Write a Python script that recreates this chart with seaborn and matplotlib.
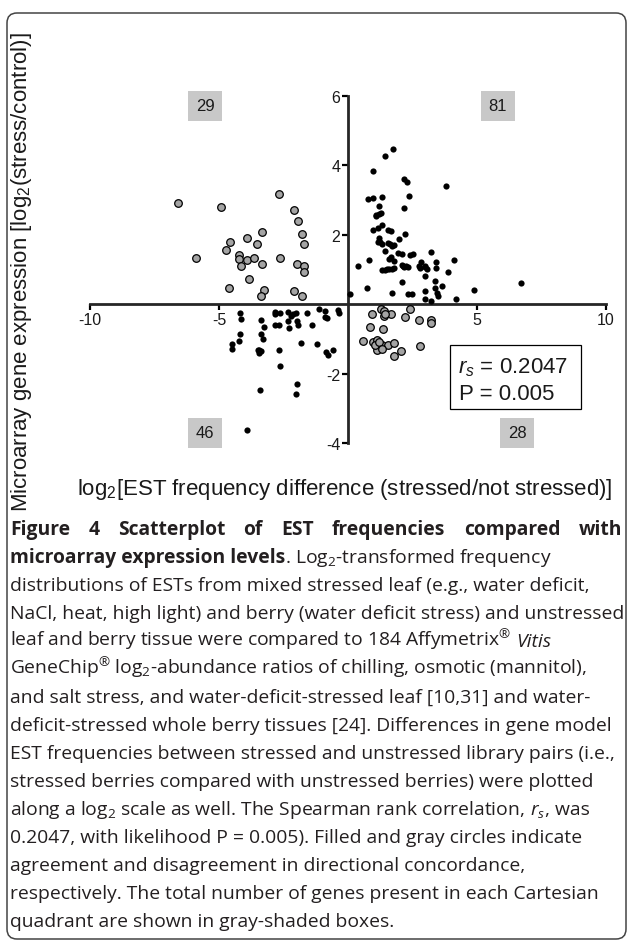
import matplotlib
matplotlib.use("Agg")
import matplotlib.pyplot as plt
from matplotlib.patches import FancyBboxPatch, Rectangle
from matplotlib.transforms import IdentityTransform
import pandas as pd
import seaborn as sns

# genes whose EST and array directions agree (filled black circles)
agree_x = [1.73, 1.43, 0.97, 2.16, 2.30, 3.79, 2.38, 0.79, 0.97, 1.32, 2.16, 1.20, 1.09, 1.19, 1.27,
           1.30, 1.15, 0.96, 1.56, 1.68, 2.22, 1.20, 1.96, 1.15, 1.30, 1.56, 1.72, 1.80, 1.43, 1.95,
           2.08, 2.39, 2.53, 3.22, 0.83, 0.38, 1.65, 1.59, 1.80, 1.30, 1.43, 1.58, 1.69, 1.80, 2.08,
           2.16, 2.24, 2.31, 2.74, 2.83, 2.78, 3.00, 3.05, 2.98, 3.40, 3.40, 4.11, 3.86, 0.72, 0.09,
           1.71, 2.08, 2.33, 2.47, 3.00, 3.00, 3.22, 3.38, 3.38, 3.44, 3.49, 3.64, 4.19, 4.90, 6.69,
           1.24, 1.62, 2.12, 1.50, 2.98, 1.10,
           -4.19, -4.14, -4.17, -4.22, -4.48, -4.48, -3.37, -3.24, -3.37, -3.28, -3.50, -3.45, -3.36,
           -3.41, -2.83, -2.83, -2.62, -2.83, -2.66, -2.66, -2.62, -2.33, -2.21, -2.03, -2.31, -1.99,
           -2.27, -1.93, -1.60, -1.38, -1.82, -1.20, -1.99, -2.02, -1.14, -0.88, -0.90, -0.83, -0.39,
           -0.34, -0.85, -0.78, -0.59, -3.90, -2.15, -3.44]
agree_y = [4.47, 4.28, 3.84, 3.62, 3.53, 3.42, 3.13, 3.03, 3.07, 3.10, 2.78, 2.82, 2.58, 2.59, 2.63,
           2.29, 2.19, 2.14, 2.15, 2.12, 2.01, 1.91, 1.89, 1.78, 1.73, 1.77, 1.68, 1.70, 1.52, 1.48,
           1.46, 1.42, 1.44, 1.50, 1.28, 1.10, 1.37, 1.29, 1.24, 1.00, 1.00, 1.01, 1.02, 1.05, 1.13,
           1.08, 1.09, 1.08, 1.11, 1.23, 1.05, 1.08, 1.02, 0.82, 1.21, 1.04, 1.27, 0.92, 0.48, 0.30,
           0.33, 0.64, 0.30, 0.30, 0.38, 0.15, 0.08, 0.66, 0.47, 0.31, 0.25, 0.52, 0.14, 0.40, 0.62,
           1.80, 1.74, 1.10, 1.01, 1.10, 2.55,
           -0.25, -0.43, -0.86, -1.05, -1.16, -1.28, -0.46, -0.65, -0.86, -0.99, -1.33, -1.40, -1.36,
           -2.48, -0.22, -0.29, -0.26, -0.61, -0.61, -1.32, -1.78, -0.22, -0.34, -0.26, -0.49, -0.48,
           -0.70, -0.61, -0.25, -0.60, -1.12, -1.16, -2.30, -2.60, -0.15, -0.20, -0.36, -0.40, -0.17,
           -0.24, -1.38, -1.45, -1.33, -3.62, -0.27, -1.33]

# genes whose directions disagree (gray circles)
disagree_x = [-6.60, -4.92, -2.66, -5.90, -2.09, -1.94, -3.32, -1.77, -4.57, -3.93, -1.69, -3.51,
              -4.73, -4.24, -4.24, -3.91, -3.64, -2.64, -4.16, -3.33, -1.98, -1.71, -1.69, -3.85,
              -4.60, -3.26, -3.37, -2.09, -1.77,
              0.94, 1.27, 1.40, 1.41, 1.68, 2.22, 2.40, 2.74, 3.22, 3.22, 0.86, 1.34, 0.57, 0.97,
              1.14, 1.16, 1.21, 1.14, 1.33, 1.56, 1.78, 2.05, 1.80, 2.78, 1.05, 1.22, 1.30, 1.45]
disagree_y = [2.93, 2.81, 3.19, 1.33, 2.71, 2.41, 2.09, 2.01, 1.80, 1.90, 1.73, 1.73,
              1.57, 1.41, 1.30, 1.26, 1.34, 1.34, 1.11, 1.15, 1.15, 1.11, 0.92, 0.73,
              0.46, 0.42, 0.23, 0.38, 0.25,
              -0.29, -0.14, -0.21, -0.34, -0.27, -0.36, -0.15, -0.45, -0.45, -0.53, -0.66, -0.72,
              -1.05, -1.08, -1.04, -1.14, -1.20, -1.33, -1.18, -1.19, -1.12, -1.34, -1.48, -1.21,
              -1.18, -1.08, -1.28, -0.28]

# genes per quadrant: upper left, upper right, lower left, lower right
quadrant_counts = [29, 81, 46, 28]
r_s = 0.2047
p_value = 0.005

caption = [
    [("Figure 4 Scatterplot of EST frequencies compared with", "b")],
    [("microarray expression levels", "b"), (". Log$\\mathregular{_2}$-transformed frequency", "r")],
    [("distributions of ESTs from mixed stressed leaf (e.g., water deficit,", "r")],
    [("NaCl, heat, high light) and berry (water deficit stress) and unstressed", "r")],
    [("leaf and berry tissue were compared to 184 Affymetrix$\\mathregular{^{®}}$", "r"), (" Vitis", "i")],
    [("GeneChip$\\mathregular{^{®}}$ log$\\mathregular{_2}$-abundance ratios of chilling, osmotic (mannitol),", "r")],
    [("and salt stress, and water-deficit-stressed leaf [10,31] and water-", "r")],
    [("deficit-stressed whole berry tissues [24]. Differences in gene model", "r")],
    [("EST frequencies between stressed and unstressed library pairs (i.e.,", "r")],
    [("stressed berries compared with unstressed berries) were plotted", "r")],
    [("along a log$\\mathregular{_2}$ scale as well. The Spearman rank correlation,", "r"),
     (" r$\\mathregular{_s}$", "i"), (", was", "r")],
    [("0.2047, with likelihood P = 0.005). Filled and gray circles indicate", "r")],
    [("agreement and disagreement in directional concordance,", "r")],
    [("respectively. The total number of genes present in each Cartesian", "r")],
    [("quadrant are shown in gray-shaded boxes.", "r")],
]

df = pd.DataFrame({
    "est": agree_x + disagree_x,
    "array": agree_y + disagree_y,
    "concordance": ["agree"] * len(agree_x) + ["disagree"] * len(disagree_x),
})

sns.set_style("ticks")
plt.rcParams["font.family"] = ["Liberation Sans", "DejaVu Sans"]
plt.rcParams["axes.unicode_minus"] = False
plt.rcParams["mathtext.fontset"] = "custom"
plt.rcParams["mathtext.rm"] = "Liberation Sans"
plt.rcParams["mathtext.it"] = "Liberation Sans:italic"

W, H = 627, 945
fig = plt.figure(figsize=(W / 100, H / 100), dpi=100)
ax = fig.add_axes([90 / W, 1 - 444 / H, 516 / W, 347 / H])
ax.set_facecolor("none")

sns.scatterplot(data=df[df.concordance == "disagree"], x="est", y="array", color="#a4a4a4",
                edgecolor="black", linewidth=0.9, s=30, ax=ax, clip_on=False, zorder=3)
sns.scatterplot(data=df[df.concordance == "agree"], x="est", y="array", color="black",
                edgecolor="black", linewidth=0, s=20, ax=ax, clip_on=False, zorder=3)

ax.set_xlim(-10, 10)
ax.set_ylim(-4, 6)
ax.spines[["top", "right"]].set_visible(False)
for side in ["left", "bottom"]:
    ax.spines[side].set_position(("data", 0))
    ax.spines[side].set_linewidth(2)
ax.set_xticks([-10, -5, 5, 10])
ax.set_yticks([-4, -2, 2, 4, 6])
ax.tick_params(width=1.6, length=4, labelsize=11.5, pad=1.5, color="black", labelcolor="#1a1a1a")

ax.set_xlabel("log$\\mathregular{_2}$[EST frequency difference (stressed/not stressed)]",
              fontsize=16, va="center", ha="center", color="#1a1a1a")
ax.xaxis.set_label_coords((345 - 90) / 516, (444 - 490) / 347)
ax.set_ylabel("Microarray gene expression [log$\\mathregular{_2}$(stress/control)]",
              fontsize=16, va="center", ha="center", color="#1a1a1a")
ax.yaxis.set_label_coords((22 - 90) / 516, (444 - 272) / 347)

# quadrant count boxes
quad_pos = [(-5.54, 5.72), (5.81, 5.72), (-5.54, -3.71), (6.55, -3.71)]
for (qx, qy), n in zip(quad_pos, quadrant_counts):
    ax.text(qx, qy, str(n), ha="center", va="center", fontsize=12, color="#1a1a1a",
            bbox=dict(boxstyle="square,pad=0.45", fc="#c8c8c8", ec="none"))

# correlation box
ax.add_patch(Rectangle((3.94, -3.014), 5.08, 1.83, fill=False, ec="black", lw=0.9, clip_on=False))
ax.text(4.28, -1.97, "$\\mathit{r_s}$ = %.4f" % r_s, fontsize=16, va="baseline", color="#1a1a1a")
ax.text(4.32, -2.72, "P = %.3f" % p_value, fontsize=16, va="baseline", color="#1a1a1a")

# rounded frame around figure + caption
fig.patches.append(FancyBboxPatch((7, 5), 619, 926, boxstyle="round,pad=0,rounding_size=10",
                                  transform=IdentityTransform(), fill=False, ec="#444444", lw=1.1))

# caption
renderer = fig.canvas.get_renderer()
cap_font = ["Open Sans", "DejaVu Sans"]
x0, x1 = 10, 622
base0, step = 535, 28.0


def width_px(txt, **kw):
    t = fig.text(0, 0, txt, **kw)
    w = t.get_window_extent(renderer).width
    t.remove()
    return w


# size the caption so the longest ragged line fills the frame as in the print
ref_w = width_px(caption[3][0][0], family=cap_font, fontsize=10)
cap_size = 10 * (x1 - x0 + 1) / ref_w
styles = {
    "r": dict(family=cap_font, fontsize=cap_size, color="#231f20"),
    "b": dict(family=cap_font, fontsize=cap_size, color="#231f20", weight="bold"),
    "i": dict(family=cap_font, fontsize=cap_size, color="#231f20", style="italic"),
}
space_w = width_px("a a", **styles["r"]) - width_px("aa", **styles["r"])

for i, line in enumerate(caption):
    y = 1 - (base0 + i * step) / H
    if i == 0:
        words = line[0][0].split()
        ws = [width_px(w, **styles["b"]) for w in words]
        gap = (x1 - x0 - sum(ws)) / (len(words) - 1)
        x = x0
        for w, wd in zip(words, ws):
            fig.text(x / W, y, w, va="baseline", ha="left", **styles["b"])
            x += wd + gap
        continue
    x = x0
    for txt, st in line:
        if txt.startswith(" "):
            x += space_w
            txt = txt[1:]
        t = fig.text(x / W, y, txt, va="baseline", ha="left", **styles[st])
        x += t.get_window_extent(renderer).width

fig.savefig("out.png", dpi=100)
